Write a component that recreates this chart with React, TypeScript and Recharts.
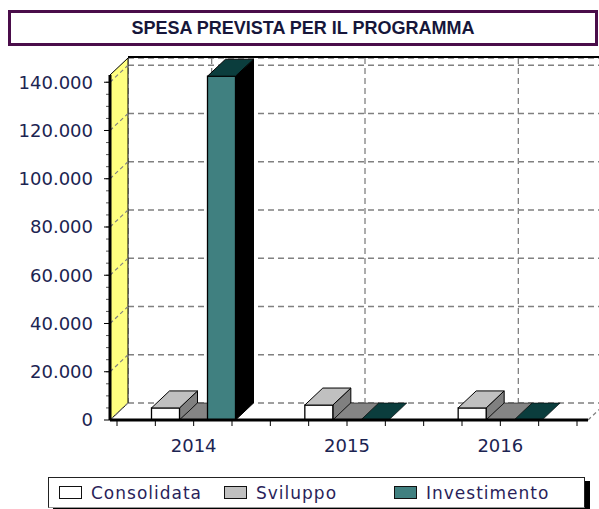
import React from 'react';
import { BarChart, Bar, XAxis, YAxis, CartesianGrid, ReferenceArea } from 'recharts';

// ---- data ----
const categories = ['2014', '2015', '2016'];
const consolidata = [5000, 6200, 5000];
const sviluppo = [0, 0, 0];
const investimento = [142500, 0, 0];
const yTicks = [0, 20000, 40000, 60000, 80000, 100000, 120000, 140000];
const yMinorStep = 5000;
const yMax = 143000;
const seriesNames = ['Consolidata', 'Sviluppo', 'Investimento'];
const title = 'SPESA PREVISTA PER IL PROGRAMMA';

const data = categories.map((c, i) => ({
  year: c,
  Consolidata: consolidata[i],
  Sviluppo: sviluppo[i],
  Investimento: investimento[i],
}));

// ---- styles ----
const DX = 18;
const DY = 17;
const PAD_L = 7;
const PAD_R = 11;
const TEXT = '#1c2452';
const FONT = '"DejaVu Sans", Verdana, sans-serif';

const palettes: Record<string, { front: string; top: string; side: string; swatch: string }> = {
  Consolidata: { front: '#FFFFFF', top: '#C0C0C0', side: '#808080', swatch: '#FFFFFF' },
  Sviluppo: { front: '#C0C0C0', top: '#858585', side: '#606060', swatch: '#C0C0C0' },
  Investimento: { front: '#408080', top: '#0B3D3D', side: '#000000', swatch: '#408080' },
};
const legendItemWidths = [165, 170, 160];

const fmt = (v: number) => String(v).replace(/\B(?=(\d{3})+(?!\d))/g, '.');

const make3D = (name: string) => (props: any) => {
  const p = palettes[name];
  const { x, y, width: w, height } = props;
  if (x == null || y == null) return <g />;
  const h = Math.max(0, height || 0);
  const top = `${x},${y} ${x + DX},${y - DY} ${x + w + DX},${y - DY} ${x + w},${y}`;
  const side = `${x + w},${y} ${x + w + DX},${y - DY} ${x + w + DX},${y + h - DY} ${x + w},${y + h}`;
  return (
    <g>
      {h > 0 && <polygon points={side} fill={p.side} stroke="#000" strokeWidth={1} />}
      {h > 0 && <rect x={x} y={y} width={w} height={h} fill={p.front} stroke="#000" strokeWidth={1.3} />}
      <polygon points={top} fill={p.top} stroke="#000" strokeWidth={h > 0 ? 1 : 0.6} />
    </g>
  );
};

const WallShape = (props: any) => {
  const { x, y, width, height } = props;
  if (x == null) return <g />;
  const left = x - PAD_L;
  const right = x + width + PAD_R;
  const bottom = y + height;
  const top = y;
  const minor: number[] = [];
  for (let k = 0; k <= 12; k++) minor.push(x + (k * width) / 12);
  const yMinor: number[] = [];
  for (let v = yMinorStep; v < yMax; v += yMinorStep) yMinor.push(bottom - (v / yMax) * height);
  return (
    <g>
      <polygon
        points={`${left},${top} ${left + DX},${top - DY} ${left + DX},${bottom - DY} ${left},${bottom}`}
        fill="#FFFF80"
        stroke="#000"
        strokeWidth={1}
      />
      {yTicks.map((t) => {
        const yy = bottom - (t / yMax) * height;
        return (
          <line key={t} x1={left} y1={yy} x2={left + DX} y2={yy - DY} stroke="#808080" strokeWidth={1.2} strokeDasharray="4 3" />
        );
      })}
      {yMinor.map((yy, i) => (
        <line key={`m${i}`} x1={left - 4} y1={yy} x2={left} y2={yy} stroke="#555" strokeWidth={1} />
      ))}
      <line x1={left + DX} y1={top - DY - 1} x2={right + DX} y2={top - DY - 1} stroke="#000" strokeWidth={2} />
      <line x1={right} y1={bottom} x2={right + DX} y2={bottom - DY} stroke="#808080" strokeWidth={1.2} strokeDasharray="4 3" />
      {minor.map((mx, i) => (
        <line key={i} x1={mx} y1={bottom} x2={mx} y2={bottom + 6} stroke="#000" strokeWidth={1} />
      ))}
    </g>
  );
};

const renderH = (p: any) => {
  const { x1, x2, y1 } = p;
  return (
    <line key={`h-${y1}`} x1={x1 + DX} y1={y1 - DY} x2={x2 + DX} y2={y1 - DY} stroke="#808080" strokeWidth={1.3} strokeDasharray="6 4" />
  );
};
const renderV = (p: any) => {
  const { x1, y1, y2 } = p;
  return (
    <line key={`v-${x1}`} x1={x1 + DX} y1={y1 - DY} x2={x1 + DX} y2={y2 - DY} stroke="#808080" strokeWidth={1.3} strokeDasharray="6 4" />
  );
};

export default function App() {
  return (
    <div style={{ position: 'absolute', left: 0, top: 0, width: 599, height: 509, background: '#fff', overflow: 'hidden' }}>
      <div style={{ position: 'absolute', left: 0, top: 0 }}>
        <BarChart
          width={599}
          height={509}
          data={data}
          margin={{ top: 75, right: 11, bottom: 59, left: 0 }}
          barGap={0}
          barCategoryGap="22.5%"
        >
          <ReferenceArea y1={0} y2={yMax} ifOverflow="visible" shape={WallShape} />
          <CartesianGrid horizontal={renderH} vertical={renderV} />
          <XAxis
            dataKey="year"
            padding={{ left: PAD_L, right: PAD_R }}
            axisLine={{ stroke: '#000', strokeWidth: 3 }}
            tickLine={false}
            tickSize={6}
            tickMargin={13}
            height={30}
            interval={0}
            tick={{ fill: TEXT, fontSize: 18, fontFamily: FONT }}
          />
          <YAxis
            width={110}
            domain={[0, yMax]}
            ticks={yTicks}
            interval={0}
            tickFormatter={fmt}
            axisLine={{ stroke: '#000', strokeWidth: 3 }}
            tickLine={{ stroke: '#000', strokeWidth: 1 }}
            tickSize={6}
            tickMargin={11}
            tick={{ fill: TEXT, fontSize: 18, fontFamily: FONT }}
          />
          {seriesNames.map((n) => (
            <Bar key={n} dataKey={n} shape={make3D(n)} isAnimationActive={false} />
          ))}
        </BarChart>
      </div>

      <div
        style={{
          position: 'absolute',
          left: 8,
          top: 10,
          width: 590,
          height: 36,
          boxSizing: 'border-box',
          border: '3px solid #4a0d4a',
          background: '#fff',
          textAlign: 'center',
          lineHeight: '30px',
          fontFamily: '"Liberation Sans", Arial, sans-serif',
          fontWeight: 'bold',
          fontSize: 18,
          letterSpacing: 0,
          color: '#16163a',
        }}
      >
        {title}
      </div>

      <div
        style={{
          position: 'absolute',
          left: 48,
          top: 477,
          width: 537,
          height: 31,
          boxSizing: 'border-box',
          border: '1.5px solid #222',
          borderBottom: '1px solid #999',
          boxShadow: '5px 4px 0 #000',
          background: '#fff',
          display: 'flex',
          alignItems: 'center',
          paddingLeft: 10,
          fontFamily: FONT,
          fontSize: 17,
          letterSpacing: 1,
          color: '#2a1f5a',
        }}
      >
        {seriesNames.map((n, i) => (
          <div key={n} style={{ width: legendItemWidths[i], display: 'flex', alignItems: 'center', flex: 'none' }}>
            <span
              style={{
                display: 'inline-block',
                width: 23,
                height: 13,
                boxSizing: 'border-box',
                border: '1.5px solid #111',
                background: palettes[n].swatch,
                marginRight: 9,
              }}
            />
            <span>{n}</span>
          </div>
        ))}
      </div>
    </div>
  );
}
